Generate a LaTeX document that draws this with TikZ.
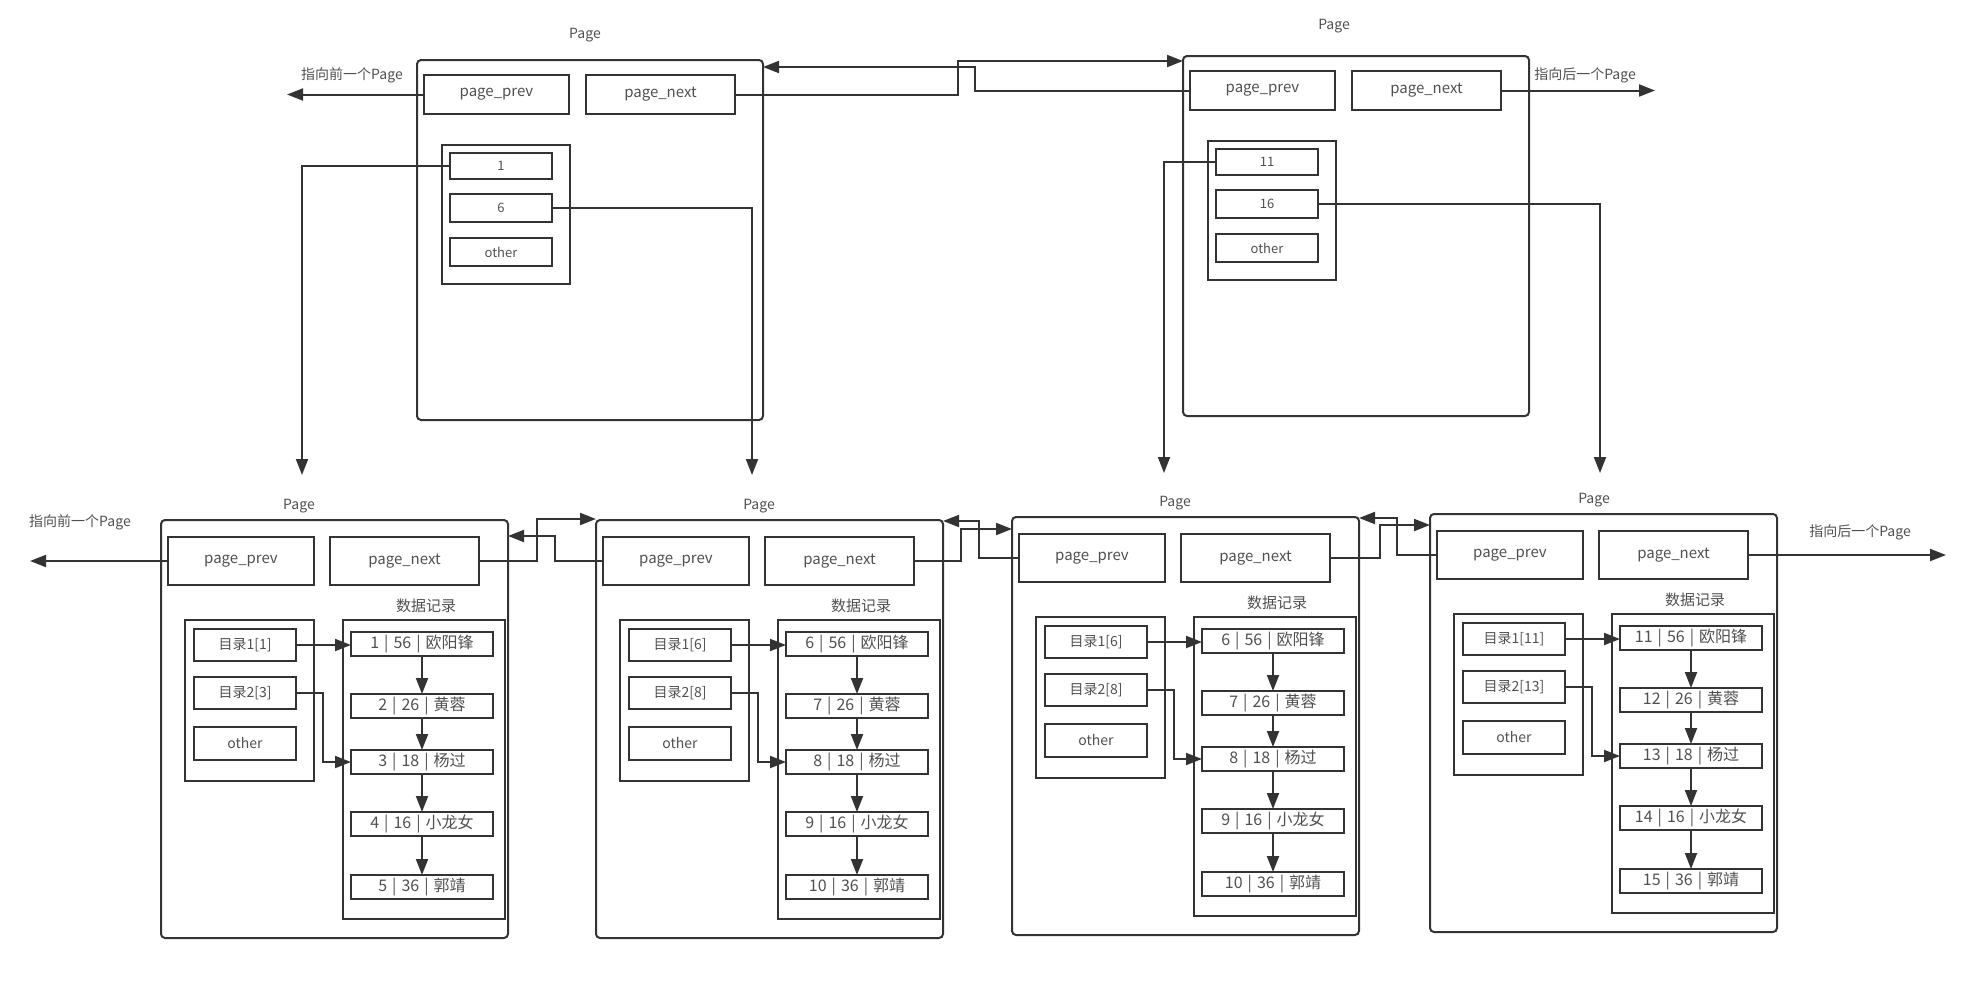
\documentclass[tikz,border=0pt]{standalone}
\usepackage{fontspec}
\setmainfont{Noto Sans CJK SC}
\usetikzlibrary{arrows.meta}
\definecolor{lc}{HTML}{333333}
\definecolor{tc}{HTML}{505050}
\newcommand\fsz[1]{\fontsize{#1pt}{#1pt}\selectfont}
\newcommand\rsep{\hspace{5pt}|\hspace{5pt}}
\tikzset{
  base/.style={draw=lc, line width=2pt, inner sep=0pt, outer sep=0pt, text=tc, font=\fsz{15}, anchor=north west},
  pagebox/.style={base, rounded corners=4pt},
  cellbox/.style={base, line width=2.4pt},
  recbox/.style={cellbox, font=\fsz{16}, minimum width=142pt, minimum height=24pt},
  lbl/.style={text=tc, font=\fsz{14}, inner sep=0pt},
  arr/.style={draw=lc, line width=2pt, -{Triangle[length=16pt,width=12pt]}},
}
% bottom page: id, x, y, first record number, dir1, dir2, label dx
\newcommand\BPage[7]{%
  \pgfmathtruncatemacro\ra{#4}%
  \pgfmathtruncatemacro\rb{#4+1}%
  \pgfmathtruncatemacro\rc{#4+2}%
  \pgfmathtruncatemacro\rd{#4+3}%
  \pgfmathtruncatemacro\re{#4+4}%
  \node[pagebox, minimum width=347pt, minimum height=418pt] (#1) at (#2,#3) {};
  \node[lbl] (#1lbl) at ({#2+#7},{#3-14}) {Page};
  \node[cellbox, minimum width=146pt, minimum height=48pt] (#1prev) at ({#2+7},{#3+17}) {page\_prev};
  \node[cellbox, minimum width=149pt, minimum height=48pt] (#1next) at ({#2+169},{#3+17}) {page\_next};
  \node[lbl, font=\fsz{15}] (#1dlbl) at ({#2+265},{#3+86}) {数据记录};
  \node[base, minimum width=129pt, minimum height=161pt] (#1idx) at ({#2+24},{#3+100}) {};
  \node[cellbox, font=\fsz{14}, minimum width=102pt, minimum height=32pt] (#1d1) at ({#2+33},{#3+109}) {#5};
  \node[cellbox, font=\fsz{14}, minimum width=102pt, minimum height=32pt] (#1d2) at ({#2+33},{#3+157}) {#6};
  \node[cellbox, font=\fsz{14}, minimum width=102pt, minimum height=33pt] (#1oth) at ({#2+33},{#3+207}) {other};
  \node[base, minimum width=162pt, minimum height=299pt] (#1data) at ({#2+182},{#3+100}) {};
  \node[recbox] (#1r1) at ({#2+190},{#3+112}) {\ra\rsep{}56\rsep{}欧阳锋};
  \node[recbox] (#1r2) at ({#2+190},{#3+174}) {\rb\rsep{}26\rsep{}黄蓉};
  \node[recbox] (#1r3) at ({#2+190},{#3+230}) {\rc\rsep{}18\rsep{}杨过};
  \node[recbox] (#1r4) at ({#2+190},{#3+292}) {\rd\rsep{}16\rsep{}小龙女};
  \node[recbox] (#1r5) at ({#2+190},{#3+355}) {\re\rsep{}36\rsep{}郭靖};
  \coordinate (#1bend) at ({#2+162},{#3});
  \draw[arr] (#1d1.east) -- (#1d1.east -| #1r1.west);
  \draw[arr] (#1d2.east) -| (#1bend |- #1r3.west) -- (#1r3.west);
  \draw[arr] (#1r1.south) -- (#1r2.north);
  \draw[arr] (#1r2.south) -- (#1r3.north);
  \draw[arr] (#1r3.south) -- (#1r4.north);
  \draw[arr] (#1r4.south) -- (#1r5.north);
}
% top page: id, x, y, key1, key2, label dx, label dy
\newcommand\TPage[7]{%
  \node[pagebox, minimum width=346pt, minimum height=360pt] (#1) at (#2,#3) {};
  \node[lbl] (#1lbl) at ({#2+#6},{#3+#7}) {Page};
  \node[cellbox, minimum width=145pt, minimum height=39pt] (#1prev) at ({#2+7},{#3+15}) {page\_prev};
  \node[cellbox, minimum width=149pt, minimum height=39pt] (#1next) at ({#2+169},{#3+15}) {page\_next};
  \node[base, minimum width=128pt, minimum height=139pt] (#1idx) at ({#2+25},{#3+85}) {};
  \node[cellbox, font=\fsz{13}, minimum width=102pt, minimum height=26pt] (#1i1) at ({#2+33},{#3+93}) {#4};
  \node[cellbox, font=\fsz{13}, minimum width=102pt, minimum height=28pt] (#1i2) at ({#2+33},{#3+134}) {#5};
  \node[cellbox, font=\fsz{13}, minimum width=102pt, minimum height=28pt] (#1oth) at ({#2+33},{#3+178}) {other};
}
\begin{document}
\begin{tikzpicture}[x=1pt, y=-1pt]
\useasboundingbox (0,0) rectangle (1971,996);
% top pages
\TPage{TL}{417}{60}{1}{6}{168}{-25}
\TPage{TR}{1183}{56}{11}{16}{151}{-30}
% bottom pages
\BPage{BA}{161}{520}{1}{目录1[1]}{目录2[3]}{138}
\BPage{BB}{596}{520}{6}{目录1[6]}{目录2[8]}{163}
\BPage{BC}{1012}{517}{6}{目录1[6]}{目录2[8]}{163}
\BPage{BD}{1430}{514}{11}{目录1[11]}{目录2[13]}{164}
% free ends and labels
\coordinate (tlfree) at (287,94);
\coordinate (trfree) at (1655,94);
\coordinate (bafree) at (30,561);
\coordinate (bdfree) at (1946,555);
\node[lbl] (lblTL) at (352,75) {指向前一个Page};
\node[lbl] (lblTR) at (1585,75) {指向后一个Page};
\node[lbl] (lblBA) at (80,522) {指向前一个Page};
\node[lbl] (lblBD) at (1860,532) {指向后一个Page};
\draw[arr] (TLprev.west) -- (TLprev.west -| tlfree);
\draw[arr] (TRnext.east) -- (TRnext.east -| trfree);
\draw[arr] (BAprev.west) -- (BAprev.west -| bafree);
\draw[arr] (BDnext.east) -- (BDnext.east -| bdfree);
% top page links
\coordinate (j1) at (958,61);
\coordinate (j2) at (975,67);
\draw[arr] (TLnext.east) -| (j1) -- (j1 -| TR.west);
\draw[arr] (TRprev.west) -| (j2) -- (j2 -| TL.east);
% top index to bottom pages
\coordinate (dnA) at (302,475);
\coordinate (dnB) at (752,475);
\coordinate (dnC) at (1164,473);
\coordinate (dnD) at (1600,473);
\draw[arr] (TLi1.west) -| (dnA);
\draw[arr] (TLi2.east) -| (dnB);
\draw[arr] (TRi1.west) -| (dnC);
\draw[arr] (TRi2.east) -| (dnD);
% bottom page links
\coordinate (k1) at (537,519);
\coordinate (k2) at (555,536);
\coordinate (k3) at (961,529);
\coordinate (k4) at (979,521);
\coordinate (k5) at (1380,525);
\coordinate (k6) at (1397,518);
\draw[arr] (BAnext.east) -| (k1) -- (k1 -| BB.west);
\draw[arr] (BBprev.west) -| (k2) -- (k2 -| BA.east);
\draw[arr] (BBnext.east) -| (k3) -- (k3 -| BC.west);
\draw[arr] (BCprev.west) -| (k4) -- (k4 -| BB.east);
\draw[arr] (BCnext.east) -| (k5) -- (k5 -| BD.west);
\draw[arr] (BDprev.west) -| (k6) -- (k6 -| BC.east);
\end{tikzpicture}
\end{document}
